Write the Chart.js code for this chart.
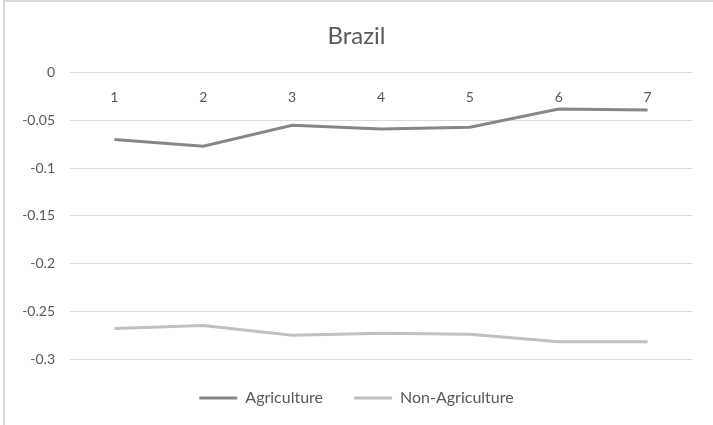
<!DOCTYPE html>
<html lang="en">
<head>
    <meta charset="UTF-8">
    <title>Brazil</title>
    <style>
        body, html {
            margin: 0;
            padding: 0;
            background: #ffffff;
            overflow: hidden;
        }
        #wrap {
            position: relative;
            width: 713px;
            height: 425px;
        }
        /* Excel frame: only left and top edges show in the crop */
        #frameTop {
            position: absolute; left: 3px; top: 0; width: 710px; height: 2px; background: #d9d9d9;
        }
        #frameLeft {
            position: absolute; left: 3px; top: 0; width: 2px; height: 425px; background: #d9d9d9;
        }
    </style>
</head>
<body>
<div id="wrap">
    <canvas id="chart" width="713" height="425"></canvas>
    <div id="frameTop"></div>
    <div id="frameLeft"></div>
</div>

<script src="https://cdn.jsdelivr.net/npm/chart.js"></script>
<script>
    const periods = ['1', '2', '3', '4', '5', '6', '7'];
    const agriculture = [-0.070, -0.077, -0.055, -0.059, -0.057, -0.038, -0.039];
    const nonAgriculture = [-0.268, -0.265, -0.275, -0.273, -0.274, -0.282, -0.282];

    const textColor = '#595959';
    const fontFamily = 'Lato, "Open Sans", sans-serif';

    new Chart(document.getElementById('chart'), {
        type: 'line',
        data: {
            labels: periods,
            datasets: [
                {
                    label: 'Agriculture',
                    data: agriculture,
                    borderColor: '#878787',
                    backgroundColor: '#878787',
                    borderWidth: 3,
                    pointRadius: 0,
                    pointStyle: 'line',
                    tension: 0
                },
                {
                    label: 'Non-Agriculture',
                    data: nonAgriculture,
                    borderColor: '#c0c0c0',
                    backgroundColor: '#c0c0c0',
                    borderWidth: 3,
                    pointRadius: 0,
                    pointStyle: 'line',
                    tension: 0
                }
            ]
        },
        options: {
            responsive: false,
            animation: false,
            layout: {
                padding: { left: 0, right: 0, top: 0, bottom: 9 }
            },
            plugins: {
                title: {
                    display: true,
                    text: 'Brazil',
                    color: textColor,
                    font: { family: fontFamily, size: 24, weight: 'normal' },
                    padding: { top: 22, bottom: 22 }
                },
                legend: {
                    position: 'bottom',
                    labels: {
                        color: textColor,
                        font: { family: fontFamily, size: 16 },
                        usePointStyle: true,
                        pointStyleWidth: 38,
                        padding: 31
                    }
                },
                tooltip: { enabled: false }
            },
            scales: {
                x: {
                    position: { y: 0 },
                    offset: true,
                    grid: { display: false, drawTicks: false },
                    border: { display: false },
                    ticks: {
                        color: textColor,
                        font: { family: fontFamily, size: 14 },
                        padding: 16
                    }
                },
                y: {
                    min: -0.3,
                    max: 0,
                    afterFit: function(scale) { scale.width = 70; },
                    grid: { color: '#d9d9d9', lineWidth: 1, drawTicks: false },
                    border: { display: false },
                    ticks: {
                        stepSize: 0.05,
                        color: textColor,
                        font: { family: fontFamily, size: 14 },
                        padding: 15,
                        callback: function(value) { return String(+value.toFixed(2)); }
                    }
                },
                // empty right-hand strip so the title stays centred on the whole chart
                yRight: {
                    position: 'right',
                    afterFit: function(scale) { scale.width = 21; },
                    grid: { display: false },
                    border: { display: false },
                    ticks: { display: false }
                }
            }
        }
    });
</script>
</body>
</html>
